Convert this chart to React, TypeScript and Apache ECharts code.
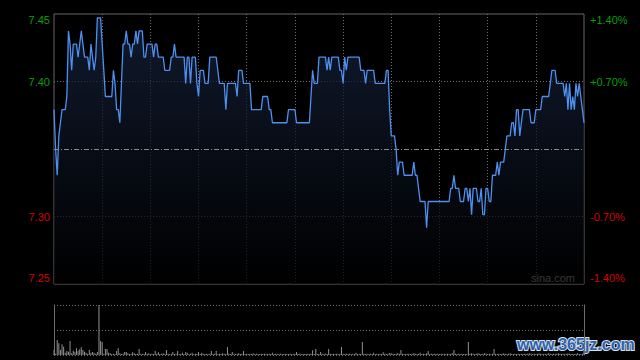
import React, { useEffect, useRef } from 'react';
import * as echarts from 'echarts';

const prevClose = 7.35;
const pctRange = 1.4;
const pctStep = 0.7;
const sessionMinutes = 330;
const gridStep = 30;
const volumeMax = 150;

// one price per trading minute (09:30-12:00, 13:00-16:00)
const prices = [
  7.38, 7.35, 7.33, 7.36, 7.37, 7.38, 7.38, 7.38, 7.39, 7.44,
  7.43, 7.41, 7.43, 7.43, 7.43, 7.42, 7.43, 7.44, 7.43, 7.42,
  7.42, 7.42, 7.41, 7.43, 7.42, 7.41, 7.42, 7.45, 7.45, 7.45,
  7.43, 7.41, 7.39, 7.39, 7.39, 7.39, 7.39, 7.41, 7.40, 7.38,
  7.38, 7.37, 7.40, 7.43, 7.43, 7.44, 7.43, 7.43, 7.42, 7.43,
  7.43, 7.44, 7.43, 7.44, 7.44, 7.44, 7.42, 7.42, 7.43, 7.43,
  7.43, 7.43, 7.42, 7.43, 7.43, 7.42, 7.42, 7.42, 7.42, 7.41,
  7.41, 7.41, 7.41, 7.42, 7.42, 7.43, 7.42, 7.42, 7.42, 7.42,
  7.42, 7.42, 7.40, 7.42, 7.42, 7.40, 7.42, 7.42, 7.42, 7.40,
  7.39, 7.41, 7.41, 7.41, 7.40, 7.40, 7.40, 7.42, 7.42, 7.42,
  7.42, 7.42, 7.41, 7.40, 7.40, 7.40, 7.40, 7.38, 7.40, 7.40,
  7.40, 7.40, 7.40, 7.40, 7.39, 7.41, 7.41, 7.41, 7.40, 7.40,
  7.40, 7.40, 7.40, 7.38, 7.38, 7.38, 7.38, 7.38, 7.38, 7.38,
  7.39, 7.39, 7.39, 7.39, 7.38, 7.38, 7.37, 7.37, 7.37, 7.37,
  7.37, 7.37, 7.37, 7.37, 7.37, 7.37, 7.38, 7.38, 7.38, 7.38,
  7.38, 7.37, 7.37, 7.37, 7.37, 7.37, 7.37, 7.37, 7.37, 7.37,
  7.39, 7.41, 7.40, 7.40, 7.40, 7.42, 7.42, 7.42, 7.42, 7.42,
  7.41, 7.42, 7.41, 7.42, 7.42, 7.42, 7.42, 7.42, 7.41, 7.41,
  7.40, 7.42, 7.41, 7.42, 7.42, 7.42, 7.42, 7.42, 7.42, 7.42,
  7.42, 7.41, 7.41, 7.41, 7.40, 7.41, 7.41, 7.41, 7.41, 7.41,
  7.40, 7.40, 7.40, 7.40, 7.40, 7.40, 7.40, 7.41, 7.41, 7.38,
  7.36, 7.36, 7.36, 7.35, 7.33, 7.34, 7.34, 7.34, 7.33, 7.33,
  7.33, 7.33, 7.33, 7.33, 7.34, 7.33, 7.33, 7.32, 7.31, 7.31,
  7.31, 7.31, 7.29, 7.31, 7.31, 7.31, 7.31, 7.31, 7.31, 7.31,
  7.31, 7.31, 7.31, 7.31, 7.31, 7.31, 7.31, 7.32, 7.32, 7.33,
  7.32, 7.32, 7.32, 7.31, 7.31, 7.31, 7.32, 7.32, 7.31, 7.32,
  7.30, 7.32, 7.32, 7.32, 7.31, 7.31, 7.32, 7.30, 7.30, 7.32,
  7.32, 7.31, 7.31, 7.33, 7.33, 7.33, 7.34, 7.33, 7.34, 7.34,
  7.34, 7.35, 7.36, 7.36, 7.36, 7.37, 7.37, 7.36, 7.38, 7.38,
  7.36, 7.37, 7.38, 7.38, 7.38, 7.38, 7.38, 7.37, 7.37, 7.37,
  7.38, 7.38, 7.38, 7.38, 7.39, 7.39, 7.39, 7.39, 7.39, 7.40,
  7.41, 7.41, 7.41, 7.40, 7.40, 7.40, 7.40, 7.40, 7.39, 7.40,
  7.38, 7.40, 7.38, 7.39, 7.38, 7.40, 7.39, 7.40, 7.39, 7.38,
  7.37,
];

// traded volume per minute (relative units)
const volumes = [
  15, 4, 45, 35, 15, 32, 25, 7, 12, 10,
  42, 5, 13, 10, 20, 13, 17, 23, 15, 10,
  7, 4, 15, 7, 9, 7, 4, 9, 150, 42,
  39, 4, 18, 18, 7, 5, 3, 4, 3, 12,
  20, 5, 3, 4, 9, 9, 5, 3, 4, 8,
  5, 3, 4, 18, 3, 4, 3, 9, 4, 5,
  3, 4, 3, 12, 4, 8, 3, 4, 5, 3,
  15, 4, 3, 4, 9, 3, 4, 12, 3, 4,
  7, 3, 9, 7, 3, 4, 7, 3, 4, 3,
  9, 3, 7, 4, 3, 4, 3, 4, 12, 3,
  4, 12, 3, 4, 3, 5, 4, 3, 24, 4,
  3, 9, 4, 3, 4, 5, 3, 4, 12, 3,
  4, 3, 4, 3, 5, 3, 4, 3, 3, 4,
  3, 4, 3, 3, 4, 3, 7, 3, 4, 3,
  3, 4, 3, 3, 4, 3, 3, 4, 3, 3,
  4, 9, 3, 4, 3, 4, 3, 3, 4, 3,
  4, 14, 3, 18, 4, 3, 9, 4, 3, 4,
  3, 18, 4, 3, 4, 3, 4, 3, 4, 24,
  4, 3, 4, 3, 4, 3, 4, 3, 7, 3,
  4, 3, 39, 4, 3, 4, 3, 4, 3, 7,
  3, 4, 3, 4, 3, 8, 4, 3, 4, 6,
  5, 4, 3, 4, 5, 4, 15, 4, 3, 4,
  3, 4, 3, 4, 5, 4, 3, 4, 7, 3,
  4, 3, 5, 12, 3, 4, 3, 4, 3, 4,
  3, 4, 3, 4, 3, 4, 3, 4, 5, 15,
  4, 3, 4, 3, 4, 3, 4, 3, 39, 4,
  5, 4, 3, 4, 5, 4, 3, 4, 5, 4,
  3, 4, 3, 4, 18, 4, 3, 4, 3, 4,
  5, 4, 3, 4, 5, 4, 3, 4, 3, 4,
  3, 4, 3, 4, 3, 4, 5, 4, 3, 4,
  3, 4, 5, 4, 3, 4, 3, 4, 5, 4,
  3, 4, 3, 4, 5, 4, 3, 4, 3, 4,
  5, 4, 3, 4, 3, 4, 5, 4, 3, 4,
  6,
];

const FONT = 'Arial, "Liberation Sans", sans-serif';
const GREEN = '#0a9e0a';
const RED = '#d20000';
const GRID_COLOR = '#6e6e6e';

export default function App() {
  const ref = useRef<HTMLDivElement>(null);

  useEffect(() => {
    const chart = echarts.init(ref.current as HTMLDivElement, null, { renderer: 'svg' });
    const pct = (p: number) => ((p - prevClose) / prevClose) * 100;
    const lineData = prices.map((p, i) => [i, pct(p)]);
    const volData = volumes.map((v, i) => [i, v]);
    const eps = 1e-6;
    const colorOf = (v: any) => {
      const n = Number(v);
      return n > eps ? GREEN : n < -eps ? RED : 'transparent';
    };
    const xSplitColors: string[] = [];
    for (let t = 0; t <= sessionMinutes; t += gridStep) {
      xSplitColors.push(t === 0 || t === sessionMinutes ? 'transparent' : GRID_COLOR);
    }

    chart.setOption({
      animation: false,
      backgroundColor: '#000',
      grid: [
        { left: 54, top: 14, width: 530, height: 270, show: true, borderColor: '#666666', borderWidth: 1, backgroundColor: 'transparent' },
        { left: 54, top: 305, width: 530, height: 50 },
      ],
      xAxis: [
        {
          gridIndex: 0, type: 'value', min: 0, max: sessionMinutes, interval: gridStep,
          axisLine: { show: false }, axisTick: { show: false }, axisLabel: { show: false },
          splitLine: { show: true, lineStyle: { color: xSplitColors, type: [1, 2], width: 1 } },
        },
        {
          gridIndex: 1, type: 'value', min: 0, max: sessionMinutes,
          axisLine: { show: false }, axisTick: { show: false }, axisLabel: { show: false },
          splitLine: { show: false },
        },
      ],
      yAxis: [
        {
          gridIndex: 0, type: 'value', position: 'left', min: -pctRange, max: pctRange, interval: pctStep,
          axisLine: { show: false }, axisTick: { show: false },
          splitLine: { show: true, lineStyle: { color: ['transparent', GRID_COLOR, 'transparent', GRID_COLOR, 'transparent'], type: [1, 2], width: 1 } },
          axisLabel: {
            margin: 4, fontSize: 11, fontFamily: FONT, color: colorOf,
            formatter: (v: number) => {
              if (Math.abs(v) < eps) return '';
              const s = (prevClose * (1 + v / 100)).toFixed(2);
              if (v > pctRange - eps) return `{top|${s}}`;
              if (v < -pctRange + eps) return `{bot|${s}}`;
              return s;
            },
            rich: {
              top: { padding: [12, 0, 0, 0], color: GREEN, fontSize: 11, fontFamily: FONT },
              bot: { padding: [0, 0, 12, 0], color: RED, fontSize: 11, fontFamily: FONT },
            },
          },
        },
        {
          gridIndex: 0, type: 'value', position: 'right', min: -pctRange, max: pctRange, interval: pctStep,
          axisLine: { show: false }, axisTick: { show: false }, splitLine: { show: false },
          axisLabel: {
            margin: 6, fontSize: 11, fontFamily: FONT, color: colorOf,
            formatter: (v: number) => {
              if (Math.abs(v) < eps) return '';
              const s = (v > 0 ? '+' : '') + v.toFixed(2) + '%';
              if (v > pctRange - eps) return `{top|${s}}`;
              if (v < -pctRange + eps) return `{bot|${s}}`;
              return s;
            },
            rich: {
              top: { padding: [12, 0, 0, 0], color: GREEN, fontSize: 11, fontFamily: FONT },
              bot: { padding: [0, 0, 12, 0], color: RED, fontSize: 11, fontFamily: FONT },
            },
          },
        },
        {
          gridIndex: 1, type: 'value', position: 'left', min: 0, max: volumeMax, interval: volumeMax / 2,
          axisLine: { show: true, lineStyle: { color: '#6e6e6e', width: 1 } },
          axisTick: { show: false }, axisLabel: { show: false },
          splitLine: { show: true, lineStyle: { color: GRID_COLOR, type: [1, 2], width: 1 } },
        },
        {
          gridIndex: 1, type: 'value', position: 'right', min: 0, max: volumeMax,
          axisLine: { show: true, lineStyle: { color: '#6e6e6e', width: 1 } },
          axisTick: { show: false }, axisLabel: { show: false }, splitLine: { show: false },
        },
      ],
      series: [
        {
          type: 'line', xAxisIndex: 0, yAxisIndex: 0, data: lineData,
          showSymbol: false, symbol: 'none',
          lineStyle: { color: '#4d90f0', width: 1.3 },
          areaStyle: {
            origin: 'start',
            color: new echarts.graphic.LinearGradient(0, 0, 0, 1, [
              { offset: 0, color: '#17243f' },
              { offset: 1, color: '#000000' },
            ]),
          },
          markLine: {
            silent: true, symbol: 'none', label: { show: false },
            lineStyle: { color: '#8a8a8a', type: [5, 2, 1, 2], width: 1 },
            data: [{ yAxis: 0 }],
          },
        },
        {
          type: 'bar', xAxisIndex: 1, yAxisIndex: 2, data: volData,
          barWidth: 1, itemStyle: { color: '#909090' },
        },
      ],
      graphic: [
        {
          type: 'text', x: 531, y: 272, silent: true,
          style: { text: 'sina.com', fill: '#b4b4b4', font: `11px ${FONT}` },
        },
        {
          type: 'text', x: 517, y: 336, silent: true,
          style: {
            text: 'www.365jz.com', fill: '#2f62ac', stroke: '#d6e0ec', lineWidth: 2,
            font: `bold 16px ${FONT}`,
          },
        },
      ],
    });

    return () => chart.dispose();
  }, []);

  return (
    <div
      ref={ref}
      style={{ position: 'fixed', left: 0, top: 0, width: 640, height: 360, background: '#000' }}
    />
  );
}
